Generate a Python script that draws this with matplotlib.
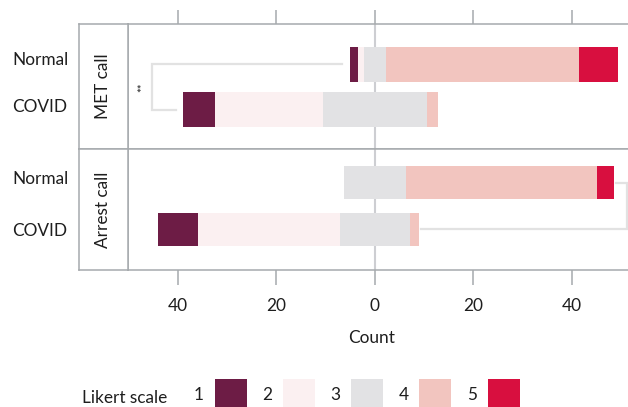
import matplotlib
matplotlib.use('Agg')
import matplotlib.pyplot as plt
from matplotlib.patches import Patch
from matplotlib.ticker import FuncFormatter
import numpy as np

plt.rcParams['font.family'] = ['Lato', 'DejaVu Sans']

# ---------------- data ----------------
likert_levels = ['1', '2', '3', '4', '5']
likert_colors = ['#6d1c45', '#fbf0f1', '#e2e2e4', '#f2c5bf', '#d80f3f']
facets = ['MET call', 'Arrest call']
groups = ['Normal', 'COVID']

met_normal = [1.6, 1.4, 4.3, 39.2, 7.9]
met_covid = [6.5, 21.9, 21.3, 2.2, 0.0]
arrest_normal = [0.0, 0.0, 12.4, 38.8, 3.5]
arrest_covid = [8.1, 28.8, 14.2, 1.8, 0.0]

x_ticks = [-40, -20, 0, 20, 40]
sig_labels = ['**', '']
# --------------------------------------

W, H = 628, 407
def fx(px):
    return px / W
def fy(py):
    return 1 - py / H

TEXT = '#1e1e1e'
GRID = '#a6aaad'
BRACKET = '#e2e2e2'
FS = 12.4

fig = plt.figure(figsize=(W / 100, H / 100), dpi=100)

panel_px = [(24, 149), (149, 270)]
ylims = [(1.862, -0.886), (1.862, -0.713)]
bar_h = [0.77, 0.70]
label_y = [[-0.13, 0.90], [-0.10, 0.99]]
bracket_x = [-45.3, 51.2]
data = [[met_normal, met_covid], [arrest_normal, arrest_covid]]
xlim = (-50.15, 51.37)

for i, facet in enumerate(facets):
    top, bot = panel_px[i]
    ax = fig.add_axes([fx(128), fy(bot), 1 - fx(128), (bot - top) / H])
    st = fig.add_axes([fx(79), fy(bot), fx(128) - fx(79), (bot - top) / H])

    ax.set_xlim(*xlim)
    ax.set_ylim(*ylims[i])
    ax.axvline(0, color='#cdced2', lw=1.5, zorder=0.5)

    ends = []
    for j, counts in enumerate(data[i]):
        c = np.array(counts, dtype=float)
        start = -(c[0] + c[1] + c[2] / 2)
        lefts = start + np.concatenate([[0], np.cumsum(c)[:-1]])
        ax.barh([j] * 5, c, left=lefts, height=bar_h[i], color=likert_colors,
                linewidth=0, zorder=2)
        ends.append((start, start + c.sum()))

    # significance brackets
    bx = bracket_x[i]
    if bx < 0:
        xs = [ends[0][0] - 1.6, bx, bx, ends[1][0] - 1.4]
        ax.text(bx - 1.8, 0.5, sig_labels[i], rotation=90, ha='center', va='center',
                fontsize=8, color=TEXT)
    else:
        xs = [ends[0][1] + 0.4, bx, bx, ends[1][1] + 0.4]
    ax.plot(xs, [0, 0, 1, 1], color=BRACKET, lw=1.6, zorder=1,
            solid_joinstyle='miter', clip_on=False)

    for s in ['top', 'bottom', 'left']:
        ax.spines[s].set_color(GRID)
        ax.spines[s].set_linewidth(1.1)
    ax.spines['right'].set_visible(False)

    ax.set_xticks(x_ticks)
    ax.xaxis.set_major_formatter(FuncFormatter(lambda v, p: f'{abs(int(round(v)))}'))
    if i == 0:
        ax.tick_params(axis='x', top=True, bottom=False, labeltop=False,
                       labelbottom=False, length=10.3, width=1.1, color=GRID)
    else:
        ax.tick_params(axis='x', top=False, bottom=True, labelbottom=True,
                       length=10.8, width=1.1, color=GRID, pad=9.5,
                       labelsize=FS, labelcolor=TEXT)

    ax.set_yticks(label_y[i])
    ax.set_yticklabels(groups)
    ax.tick_params(axis='y', length=0, pad=83.5, labelsize=FS, labelcolor=TEXT)
    for t in ax.get_yticklabels():
        t.set_horizontalalignment('left')

    st.set_xticks([])
    st.set_yticks([])
    for s in st.spines.values():
        s.set_color(GRID)
        s.set_linewidth(1.1)
    st.text(0.5, 0.5, facet, rotation=90, ha='center', va='center',
            transform=st.transAxes, fontsize=FS, color=TEXT)

fig.text(fx(372), fy(343), 'Count', ha='center', va='baseline', fontsize=FS, color=TEXT)

fig.text(fx(82), fy(403), 'Likert scale', ha='left', va='baseline', fontsize=FS, color=TEXT)
handles = [Patch(facecolor=c, edgecolor='none') for c in likert_colors]
fig.legend(handles, likert_levels, ncol=5, markerfirst=False, frameon=False,
           fontsize=FS, handlelength=1.86, handleheight=2.55, handletextpad=0.62,
           columnspacing=0.9, borderpad=0, borderaxespad=0,
           loc='center left', bbox_to_anchor=(fx(194), fy(395)),
           labelcolor=TEXT)

fig.savefig('out.png', dpi=100)
